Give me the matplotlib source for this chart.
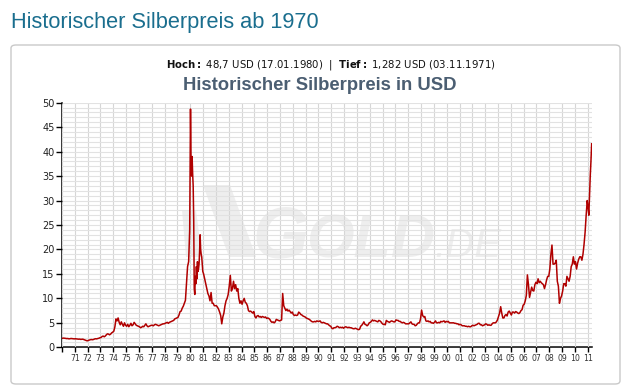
import numpy as np
import matplotlib.pyplot as plt
from matplotlib.patches import FancyBboxPatch, Polygon

years_70s = list(range(1970, 1980))
prices_70s = [
    [1.85, 1.88, 1.86, 1.82, 1.78, 1.80, 1.72, 1.76, 1.80, 1.78, 1.74, 1.72],
    [1.75, 1.72, 1.70, 1.66, 1.68, 1.62, 1.64, 1.66, 1.58, 1.50, 1.40, 1.32],
    [1.40, 1.50, 1.55, 1.58, 1.55, 1.60, 1.70, 1.75, 1.72, 1.80, 1.85, 1.95],
    [2.00, 2.20, 2.30, 2.15, 2.30, 2.55, 2.75, 2.70, 2.55, 2.70, 2.95, 3.10],
    [3.30, 4.20, 5.80, 5.40, 6.00, 5.10, 4.60, 5.20, 4.70, 4.30, 5.00, 4.50],
    [4.30, 4.70, 4.20, 4.50, 4.90, 4.40, 4.60, 5.10, 4.80, 4.50, 4.40, 4.30],
    [4.20, 4.00, 4.10, 4.30, 4.20, 4.50, 4.80, 4.40, 4.20, 4.30, 4.40, 4.50],
    [4.50, 4.40, 4.60, 4.70, 4.60, 4.50, 4.40, 4.50, 4.60, 4.70, 4.80, 4.80],
    [4.90, 5.00, 5.10, 4.90, 5.10, 5.20, 5.30, 5.40, 5.50, 5.80, 5.90, 6.00],
    [6.10, 6.60, 7.30, 7.40, 8.00, 8.40, 9.00, 9.60, 13.0, 16.5, 17.5, 24.0],
]

years_80s = list(range(1980, 1990))
prices_80s = [
    [48.7, 38.5, 35.0, 39.0, 35.5, 33.0, 26.0, 12.0, 10.8, 14.5, 13.0, 16.5,
     14.0, 17.5, 15.5, 16.0, 17.0, 19.5, 23.0, 20.0, 19.0, 18.5, 17.0, 15.5],
    [15.0, 14.0, 13.0, 12.0, 11.0, 10.5, 9.5, 11.2, 9.0, 9.0, 8.5, 8.5],
    [8.5, 8.2, 7.8, 7.2, 6.5, 4.8, 6.2, 7.0, 8.5, 9.5, 10.0, 10.8],
    [12.5, 14.7, 11.5, 12.0, 13.5, 12.0, 12.8, 11.5, 12.0, 10.0, 9.0, 9.5],
    [8.8, 9.5, 10.0, 9.2, 9.0, 8.5, 7.5, 7.3, 7.4, 7.2, 7.0, 7.3],
    [6.3, 6.0, 6.4, 6.5, 6.2, 6.3, 6.1, 6.3, 6.2, 6.1, 6.2, 5.9],
    [6.0, 5.9, 5.7, 5.3, 5.1, 5.2, 5.0, 5.2, 5.7, 5.6, 5.5, 5.4],
    [5.5, 5.6, 11.0, 8.5, 8.0, 7.5, 7.8, 7.4, 7.6, 7.3, 7.0, 7.2],
    [6.7, 6.5, 6.6, 6.5, 6.6, 7.2, 7.0, 6.7, 6.6, 6.4, 6.3, 6.2],
    [6.0, 5.9, 5.8, 5.7, 5.5, 5.3, 5.2, 5.2, 5.3, 5.2, 5.4, 5.3],
]

years_90s = list(range(1990, 2000))
prices_90s = [
    [5.3, 5.4, 5.1, 5.0, 5.1, 5.0, 4.9, 4.8, 4.8, 4.6, 4.4, 4.3],
    [3.9, 3.8, 4.0, 4.0, 4.1, 4.3, 4.2, 4.0, 4.1, 4.0, 4.1, 3.9],
    [4.1, 4.2, 4.1, 4.0, 4.1, 4.0, 4.0, 3.9, 3.8, 3.8, 3.9, 3.8],
    [3.7, 3.6, 3.7, 4.3, 4.5, 4.8, 5.2, 4.7, 4.6, 4.4, 4.6, 5.0],
    [5.1, 5.3, 5.6, 5.4, 5.5, 5.4, 5.3, 5.2, 5.5, 5.4, 5.2, 4.9],
    [4.7, 4.7, 4.6, 5.5, 5.3, 5.2, 5.1, 5.3, 5.4, 5.3, 5.2, 5.2],
    [5.6, 5.5, 5.5, 5.3, 5.3, 5.1, 5.0, 5.1, 5.0, 4.8, 4.8, 4.8],
    [4.8, 5.0, 5.2, 4.8, 4.7, 4.7, 4.4, 4.5, 4.8, 5.0, 5.0, 5.8],
    [7.6, 6.5, 6.2, 6.3, 5.4, 5.3, 5.4, 5.2, 5.3, 5.0, 5.0, 4.9],
    [5.1, 5.4, 5.0, 5.0, 5.1, 5.0, 5.3, 5.2, 5.3, 5.4, 5.1, 5.3],
]

years_00s = list(range(2000, 2012))
prices_00s = [
    [5.2, 5.3, 5.0, 5.0, 5.0, 5.0, 5.0, 4.9, 4.9, 4.8, 4.8, 4.6],
    [4.7, 4.6, 4.4, 4.4, 4.4, 4.3, 4.3, 4.2, 4.3, 4.2, 4.2, 4.4],
    [4.5, 4.4, 4.5, 4.6, 4.7, 4.9, 4.9, 4.6, 4.6, 4.4, 4.5, 4.6],
    [4.8, 4.7, 4.5, 4.6, 4.5, 4.5, 4.8, 5.0, 5.0, 5.0, 5.2, 5.6],
    [6.3, 7.0, 8.3, 7.0, 6.0, 6.0, 6.5, 6.7, 6.4, 7.2, 7.4, 7.0],
    [6.6, 7.2, 7.2, 7.0, 7.3, 7.2, 7.0, 6.9, 7.1, 7.5, 7.7, 8.6],
    [8.8, 9.5, 10.6, 14.8, 12.8, 10.2, 11.2, 12.3, 11.6, 11.5, 12.8, 13.3],
    [13.0, 14.0, 13.2, 13.5, 13.2, 13.0, 12.8, 12.0, 12.8, 13.8, 14.5, 14.5],
    [16.0, 19.0, 20.9, 17.0, 17.0, 17.2, 17.8, 13.5, 12.5, 9.0, 10.0, 10.5],
    [11.5, 13.0, 13.0, 12.5, 14.5, 14.0, 13.5, 14.5, 16.5, 17.0, 18.5, 17.0],
    [17.5, 16.0, 17.2, 18.0, 18.5, 18.5, 17.8, 19.0, 21.0, 23.5, 27.0, 30.0],
    [28.5, 27.0, 31.0, 35.0, 38.0, 41.6],
]

all_years = years_70s + years_80s + years_90s + years_00s
all_prices = prices_70s + prices_80s + prices_90s + prices_00s

dates, prices = [], []
for yr, vals in zip(all_years, all_prices):
    span = 1.0 if yr < 2011 else 0.33
    n = len(vals)
    for i, v in enumerate(vals):
        dates.append(yr + (i + 0.5) / n * span)
        prices.append(v)

W, H = 631, 391
fig = plt.figure(figsize=(W / 100, H / 100), dpi=100)
fig.patch.set_facecolor("white")

# Rahmen
box = FancyBboxPatch((11 / W, 1 - 384 / H), 609 / W, 339 / H,
                     boxstyle="round,pad=0,rounding_size=0.008",
                     transform=fig.transFigure, fill=False,
                     ec="#c9c9c9", lw=1.0)
fig.patches.append(box)

fig.text(11 / W, 1 - 28 / H, "Historischer Silberpreis ab 1970",
         fontsize=15.7, color="#1a6e8e", family="Liberation Sans", va="baseline")
fig.text(330.5 / W, 1 - 65 / H,
         r"$\mathbf{Hoch:}$ 48,7 USD (17.01.1980)  |  $\mathbf{Tief:}$ 1,282 USD (03.11.1971)",
         fontsize=7.3, color="#111111", ha="center", va="center")
fig.text(319.5 / W, 1 - 85.5 / H, "Historischer Silberpreis in USD",
         fontsize=13.3, fontweight="bold", color="#4b5e72",
         family="Liberation Sans", ha="center", va="center")

ax = fig.add_axes([62 / W, 1 - 347.3 / H, 530 / W, 244.6 / H])
ax.set_facecolor("white")
ax.set_axisbelow(False)

# Wasserzeichen
wm = "#eeeeee"
ax.add_patch(Polygon([(203 / W, 1 - 185 / H), (230 / W, 1 - 185 / H),
                      (256 / W, 1 - 257 / H), (229 / W, 1 - 257 / H)],
                     closed=True, transform=fig.transFigure, fc=wm, ec="none", zorder=0.2))
ax.add_patch(Polygon([(182 / W, 1 - 210 / H), (196 / W, 1 - 210 / H),
                      (202 / W, 1 - 257 / H), (186 / W, 1 - 257 / H)],
                     closed=True, transform=fig.transFigure, fc=wm, ec="none", zorder=0.2))
ax.text(252 / W, 1 - 257 / H, "G", transform=fig.transFigure, fontsize=52,
        fontweight="bold", style="italic", family="Liberation Sans",
        color=wm, va="baseline", zorder=0.2)
ax.text(306 / W, 1 - 257 / H, "OLD", transform=fig.transFigure, fontsize=44,
        fontweight="bold", style="italic", family="Liberation Sans",
        color=wm, va="baseline", zorder=0.2)
ax.text(434 / W, 1 - 257 / H, ".DE", transform=fig.transFigure, fontsize=29,
        style="italic", family="Liberation Sans",
        color=wm, va="baseline", zorder=0.2)

ax.plot(dates, prices, color="#b00000", lw=1.1, zorder=3)

ax.set_xlim(1970, 2011.33)
ax.set_ylim(0, 50)

tick_years = list(range(1970, 2012))
ax.set_xticks(tick_years)
ax.set_xticklabels(["" if y == 1970 else f"{y % 100:02d}" for y in tick_years])
ax.set_yticks(range(0, 51, 5))
ax.set_yticks(range(0, 51), minor=True)

ax.grid(which="major", axis="x", color="#d6d6d6", lw=0.8)
ax.grid(which="both", axis="y", color="#e2e2e2", lw=0.8)

ax.tick_params(axis="x", which="major", direction="out", length=3.6, width=1,
               pad=1.5, labelsize=5.6, labelcolor="#333333")
ax.tick_params(axis="y", which="major", direction="out", length=4.3, width=1,
               pad=1.0, labelsize=7, labelcolor="#222222")
ax.tick_params(axis="y", which="minor", length=0)
ax.tick_params(axis="x", which="minor", length=0)

for s in ["top", "right"]:
    ax.spines[s].set_visible(False)
for s in ["left", "bottom"]:
    ax.spines[s].set_linewidth(1.1)
    ax.spines[s].set_color("black")

fig.savefig("out.png", dpi=100)
